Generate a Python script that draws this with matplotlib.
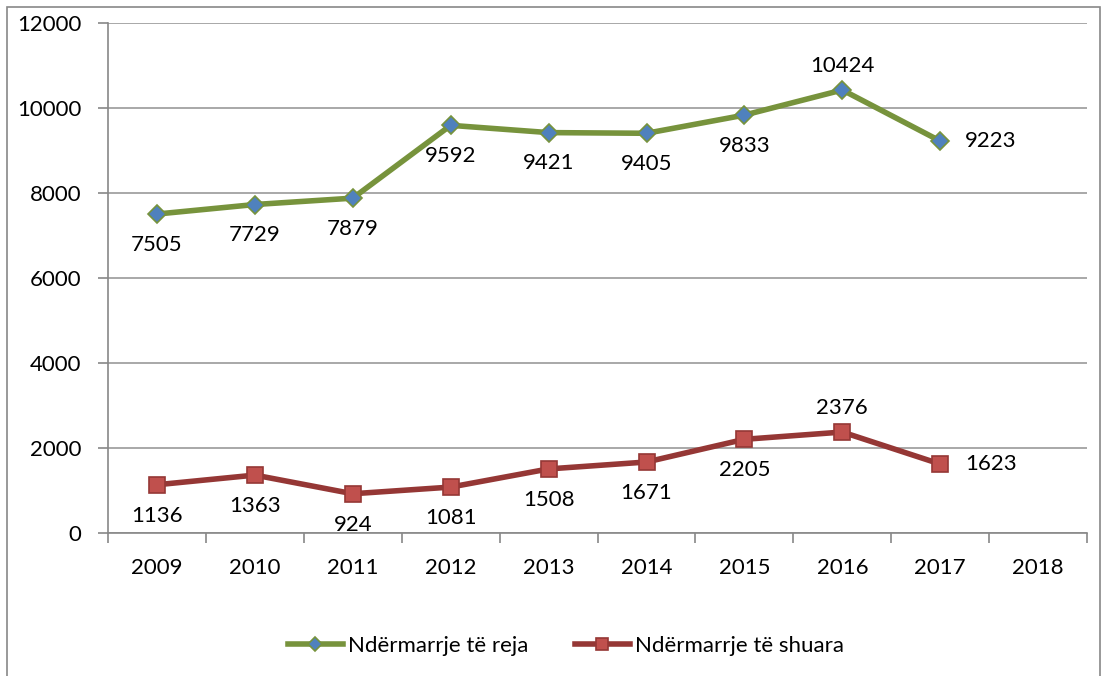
import matplotlib.pyplot as plt
import matplotlib.patches as patches
import numpy as np

plt.rcParams['font.family'] = ['Lato', 'DejaVu Sans']

years = ['2009', '2010', '2011', '2012', '2013', '2014', '2015', '2016', '2017', '2018']
new_firms = [7505, 7729, 7879, 9592, 9421, 9405, 9833, 10424, 9223]
closed_firms = [1136, 1363, 924, 1081, 1508, 1671, 2205, 2376, 1623]

green = '#77933C'
blue = '#4F81BD'
red_line = '#953735'
red_fill = '#C0504D'

fig = plt.figure(figsize=(11.07, 6.76), dpi=100)
ax = fig.add_axes([0.0976, 0.2115, 0.8844, 0.7545])

x = np.arange(len(new_firms))
ax.plot(x, new_firms, color=green, lw=4, marker='D', ms=9, mfc=blue, mec=green, mew=1.2,
        label='Ndërmarrje të reja', zorder=3)
ax.plot(x, closed_firms, color=red_line, lw=4, marker='s', ms=12, mfc=red_fill, mec=red_line, mew=1.2,
        label='Ndërmarrje të shuara', zorder=3)

# data labels: below, except the peak (above) and last point (right)
for series in (new_firms, closed_firms):
    n = len(series)
    peak = int(np.argmax(series))
    for i, v in enumerate(series):
        if i == n - 1:
            ax.annotate(str(v), (i, v), xytext=(18, 0), textcoords='offset points',
                        ha='left', va='center', fontsize=16)
        elif i == peak:
            ax.annotate(str(v), (i, v), xytext=(0, 10), textcoords='offset points',
                        ha='center', va='bottom', fontsize=16)
        else:
            ax.annotate(str(v), (i, v), xytext=(0, -15), textcoords='offset points',
                        ha='center', va='top', fontsize=16)

ax.set_xlim(-0.5, len(years) - 0.5)
ax.set_ylim(0, 12000)
ax.set_yticks(np.arange(0, 12001, 2000))
ax.set_xticks(np.arange(len(years)))
ax.set_xticklabels(years)
ax.set_xticks(np.arange(len(years) + 1) - 0.5, minor=True)
ax.tick_params(axis='x', which='major', length=0, pad=18, labelsize=16)
ax.tick_params(axis='x', which='minor', length=7, color='#888888', width=1.2)
ax.tick_params(axis='y', length=7, color='#888888', width=1.2, labelsize=16, pad=12)
ax.grid(axis='y', color='#999999', lw=1.2)
ax.set_axisbelow(True)
for s in ('top', 'right'):
    ax.spines[s].set_visible(False)
for s in ('left', 'bottom'):
    ax.spines[s].set_color('#888888')
    ax.spines[s].set_linewidth(1.2)

fig.legend(loc='center', bbox_to_anchor=(0.511, 0.044), ncol=2, frameon=False,
           fontsize=16, handlelength=2.5, columnspacing=2.1, handletextpad=0.2,
           markerscale=0.75)

frame = patches.Rectangle((7 / 1107, -0.01), 1093 / 1107, 1 - 7 / 676 + 0.01,
                          transform=fig.transFigure, fill=False, ec='#888888', lw=1.2)
fig.patches.append(frame)

fig.savefig('out.png', dpi=100)
